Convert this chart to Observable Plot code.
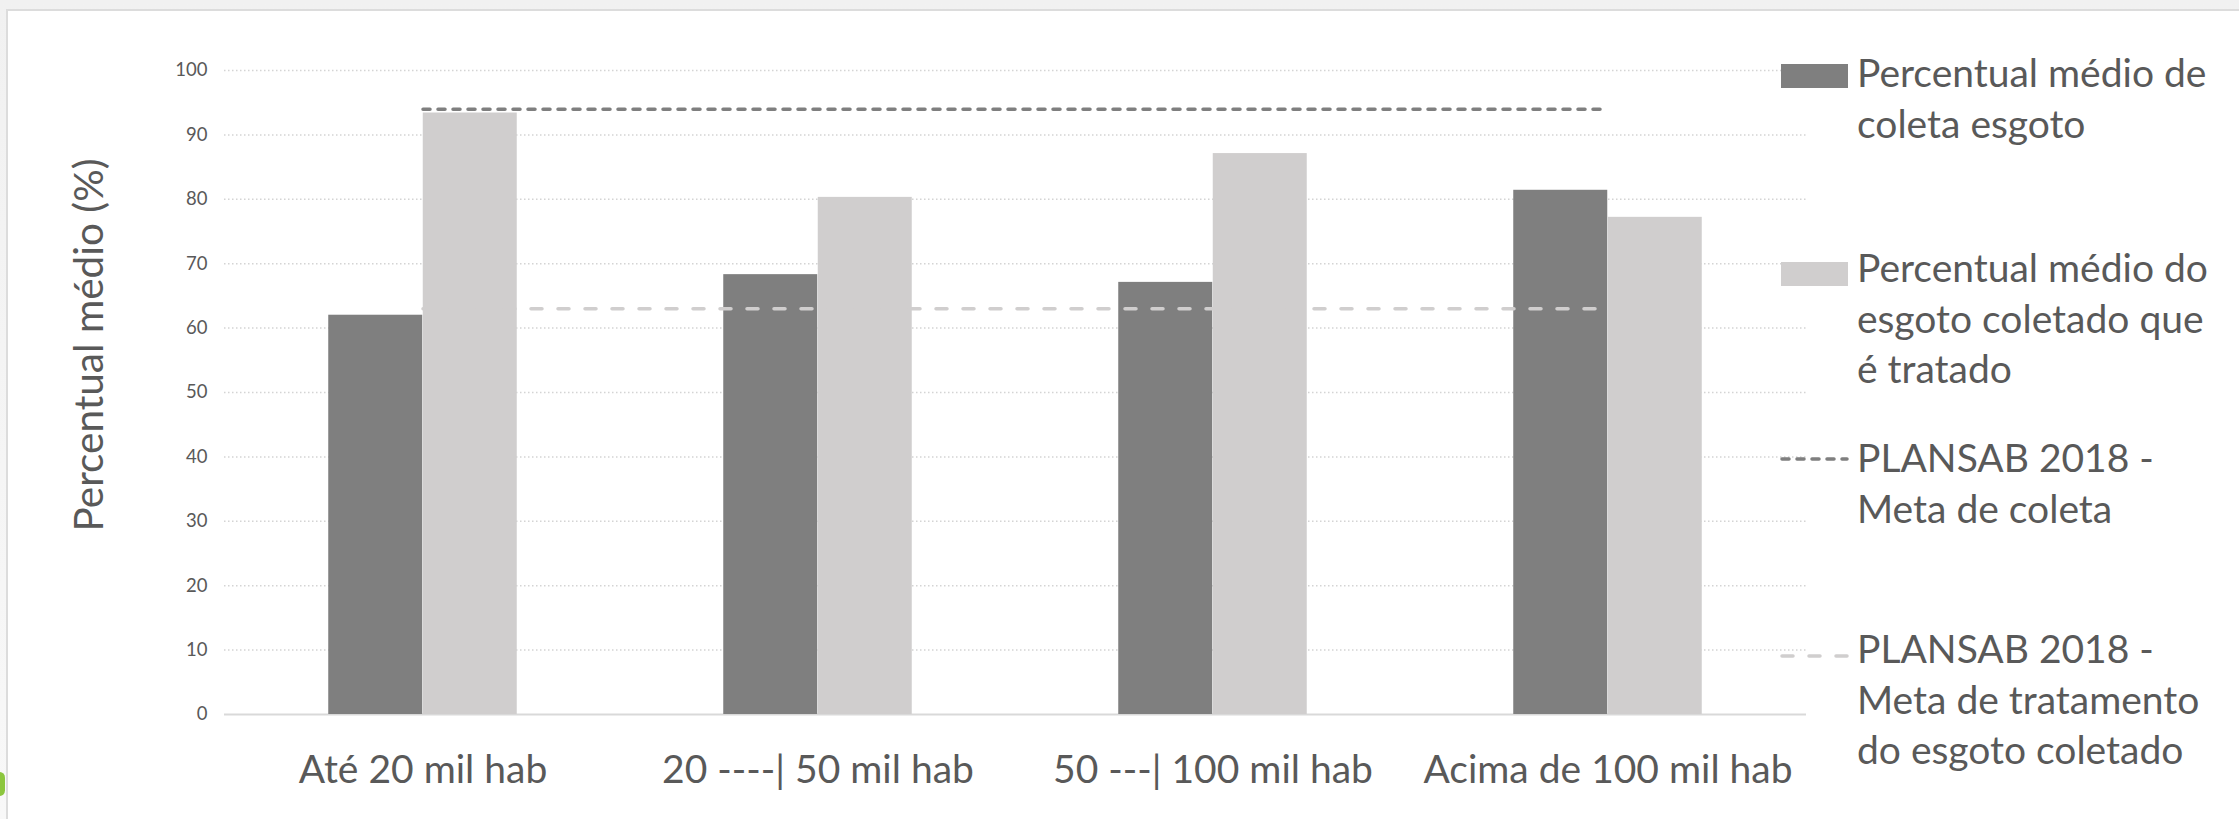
<!DOCTYPE html>
<html>
<head>
<meta charset="utf-8">
<script src="https://cdn.jsdelivr.net/npm/d3@7"></script>
<script src="https://cdn.jsdelivr.net/npm/@observablehq/plot@0.6"></script>
<style>
  body { margin: 0; background: #fff; font-family: Lato, "Noto Sans", sans-serif; color: #595959; }
  #page { position: relative; width: 2239px; height: 819px; overflow: hidden; background: linear-gradient(#f1f1f1, #f8f8f8); }
  #card { position: absolute; left: 6px; top: 9px; width: 2260px; height: 830px; background: #fff; border: 2px solid #dcdcdc; box-sizing: border-box; }
  #blob { position: absolute; left: -6px; top: 772px; width: 11px; height: 24px; border-radius: 6px; background: #8cc63e; }
  #chart { position: absolute; left: 0; top: 0; }
  .ytitle { position: absolute; left: 88px; top: 345px; transform: translate(-50%, -50%) rotate(-90deg); white-space: nowrap; font-size: 40.5px; line-height: 1; }
  .leg { position: absolute; left: 1857px; font-size: 39px; line-height: 50.5px; white-space: nowrap; }
  .key { position: absolute; left: 1781px; }
</style>
</head>
<body>
<div id="page">
  <div id="card"></div>
  <div id="blob"></div>
  <div id="chart"></div>
  <div class="ytitle" id="ytitle"></div>
  <div id="legend"></div>
</div>
<script>
// ---- data ----
const categories = ["Até 20 mil hab", "20 ----| 50 mil hab", "50 ---| 100 mil hab", "Acima de 100 mil hab"];
const coleta = [62.0, 68.3, 67.1, 81.4];          // Percentual médio de coleta esgoto
const tratado = [93.4, 80.3, 87.1, 77.2];         // Percentual médio do esgoto coletado que é tratado
const metaColeta = [94, 94, 94, 94];              // PLANSAB 2018 - Meta de coleta
const metaTratamento = [63, 63, 63, 63];          // PLANSAB 2018 - Meta de tratamento do esgoto coletado
const yTicks = [0, 10, 20, 30, 40, 50, 60, 70, 80, 90, 100];
const yTitle = "Percentual médio (%)";
const seriesLabels = [
  ["Percentual médio de", "coleta esgoto"],
  ["Percentual médio do", "esgoto coletado que", "é tratado"],
  ["PLANSAB 2018 -", "Meta de coleta"],
  ["PLANSAB 2018 -", "Meta de tratamento", "do esgoto coletado"]
];

const table = categories.map((c, i) => ({
  category: c, coleta: coleta[i], tratado: tratado[i],
  metaColeta: metaColeta[i], metaTratamento: metaTratamento[i]
}));

// ---- layout ----
const W = 1830, H = 819, mL = 224, mR = 24, mT = 70, mB = 105;
const bw = (W - mL - mR) / categories.length;
const barW = 94.5;
const darkColor = "#7f7f7f", lightColor = "#d0cece";

const chart = Plot.plot({
  width: W, height: H,
  marginLeft: mL, marginRight: mR, marginTop: mT, marginBottom: mB,
  style: { fontFamily: "Lato, 'Noto Sans', sans-serif", color: "#595959", background: "transparent", overflow: "visible" },
  x: { type: "band", domain: categories, padding: 0 },
  y: { domain: [0, 100] },
  marks: [
    Plot.ruleY(yTicks.filter(t => t > 0), { stroke: "#d4d4d4", strokeWidth: 1.5, strokeDasharray: "1.5,2.5" }),
    Plot.ruleY([0], { stroke: "#d9d9d9", strokeWidth: 2 }),
    Plot.barY(table, { x: "category", y: "coleta", fill: darkColor, insetLeft: bw / 2 - barW, insetRight: bw / 2 }),
    Plot.barY(table, { x: "category", y: "tratado", fill: lightColor, insetLeft: bw / 2, insetRight: bw / 2 - barW }),
    Plot.lineY(table, { x: "category", y: "metaColeta", stroke: darkColor, strokeWidth: 3.5, strokeDasharray: "7,8", strokeLinecap: "round" }),
    Plot.lineY(table, { x: "category", y: "metaTratamento", stroke: lightColor, strokeWidth: 3.5, strokeDasharray: "11,16", strokeLinecap: "round" }),
    Plot.axisY({ ticks: yTicks, tickSize: 0, tickPadding: 17, fontSize: 18.5, label: null }),
    Plot.axisX({ tickSize: 0, tickPadding: 41, fontSize: 39, label: null })
  ]
});
document.getElementById("chart").appendChild(chart);
document.getElementById("ytitle").textContent = yTitle;

// ---- legend ----
const legend = document.getElementById("legend");
const textTops = [47, 242, 432, 623];
seriesLabels.forEach((lines, i) => {
  const d = document.createElement("div");
  d.className = "leg";
  d.style.top = textTops[i] + "px";
  d.innerHTML = lines.map(l => l.replace(/&/g, "&amp;").replace(/</g, "&lt;")).join("<br>");
  legend.appendChild(d);
});
function swatch(top, color) {
  const s = document.createElement("div");
  s.className = "key";
  s.style.top = top + "px";
  s.style.width = "67px"; s.style.height = "24px"; s.style.background = color;
  legend.appendChild(s);
}
swatch(64, darkColor);
swatch(262, lightColor);
function lineKey(cy, color, dash) {
  const ns = "http://www.w3.org/2000/svg";
  const svg = document.createElementNS(ns, "svg");
  svg.setAttribute("width", 80); svg.setAttribute("height", 20);
  svg.style.position = "absolute"; svg.style.left = "1776px"; svg.style.top = (cy - 10) + "px";
  const ln = document.createElementNS(ns, "line");
  ln.setAttribute("x1", 6); ln.setAttribute("x2", 71); ln.setAttribute("y1", 10); ln.setAttribute("y2", 10);
  ln.setAttribute("stroke", color); ln.setAttribute("stroke-width", 3.5);
  ln.setAttribute("stroke-dasharray", dash); ln.setAttribute("stroke-linecap", "round");
  svg.appendChild(ln);
  legend.appendChild(svg);
}
lineKey(459, darkColor, "7,8");
lineKey(656, lightColor, "11,16");
</script>
</body>
</html>
